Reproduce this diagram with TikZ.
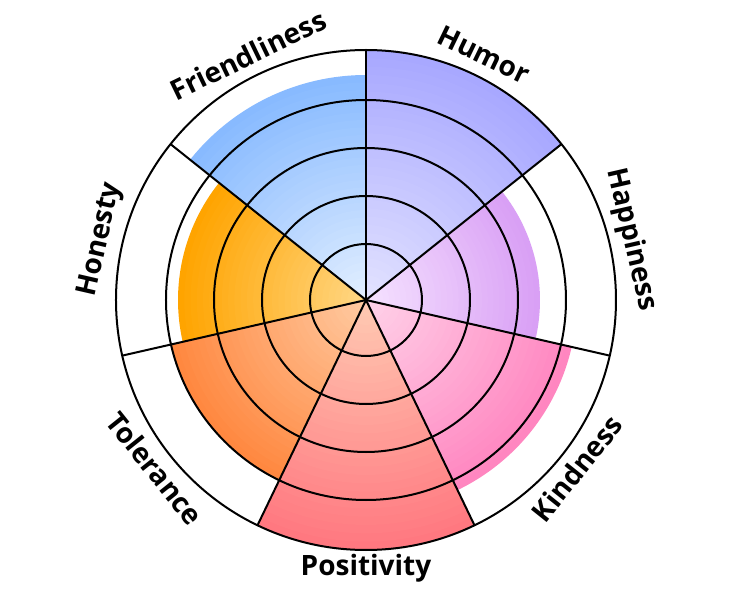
\documentclass[tikz,border=0pt]{standalone}
\usepackage{fontspec}
\setmainfont{Open Sans}
\definecolor{humorO}{HTML}{A8A8FF}\definecolor{humorI}{HTML}{E4E4FF}
\definecolor{happyO}{HTML}{D9A0F5}\definecolor{happyI}{HTML}{F6E4FF}
\definecolor{kindO}{HTML}{FF86C0}\definecolor{kindI}{HTML}{FFD4EA}
\definecolor{posO}{HTML}{FF7880}\definecolor{posI}{HTML}{FFCCB4}
\definecolor{tolO}{HTML}{FF8840}\definecolor{tolI}{HTML}{FFCCA4}
\definecolor{honO}{HTML}{FFA400}\definecolor{honI}{HTML}{FFD888}
\definecolor{friO}{HTML}{88BAFF}\definecolor{friI}{HTML}{E4F0FF}
% one gradient wedge: start, end, radius, inner, outer
\newcommand\petal[5]{%
  \foreach \k in {0,...,29} {
    \pgfmathsetmacro\rr{#3*(1-\k/30)}
    \pgfmathsetmacro\pc{100-3.33*\k}
    \fill[#5!\pc!#4] (0,0) -- (#1:\rr) arc (#1:#2:\rr) -- cycle;
  }}
\tikzset{lbl/.style={font=\fontsize{28}{32}\selectfont\bfseries}}
\begin{document}
\begin{tikzpicture}[x=1pt,y=1pt]
  \useasboundingbox (-366,-300) rectangle (366,300);
  \fill[white] (-366,-300) rectangle (366,300);
  \def\w{51.4286}
  \petal{90}{38.5714}{250}{humorI}{humorO}
  \petal{38.5714}{-12.8571}{174}{happyI}{happyO}
  \petal{-12.8571}{-64.2857}{211}{kindI}{kindO}
  \petal{-64.2857}{-115.7143}{250}{posI}{posO}
  \petal{-115.7143}{-167.1429}{200}{tolI}{tolO}
  \petal{141.4286}{192.8571}{188}{honI}{honO}
  \petal{90}{141.4286}{225}{friI}{friO}
  \foreach \r in {56,104,152,200,250}
    \draw[line width=2pt] (0,0) circle (\r);
  \foreach \k in {0,...,6}
    \draw[line width=2pt] (0,0) -- ({90-\k*\w}:250);
  \node[lbl, rotate=-25.7] (humor) at (64.29:272) {Humor};
  \node[lbl, rotate=-77.1] (happy) at (12.86:272) {Happiness};
  \node[lbl, rotate=51.4] (kind) at (-38.57:270) {Kindness};
  \node[lbl] (pos) at (-90:268) {Positivity};
  \node[lbl, rotate=-51.4] (tol) at (-141.43:270) {Tolerance};
  \node[lbl, rotate=77.1] (hon) at (167.14:272) {Honesty};
  \node[lbl, rotate=25.7] (fri) at (115.71:272) {Friendliness};
\end{tikzpicture}
\end{document}
